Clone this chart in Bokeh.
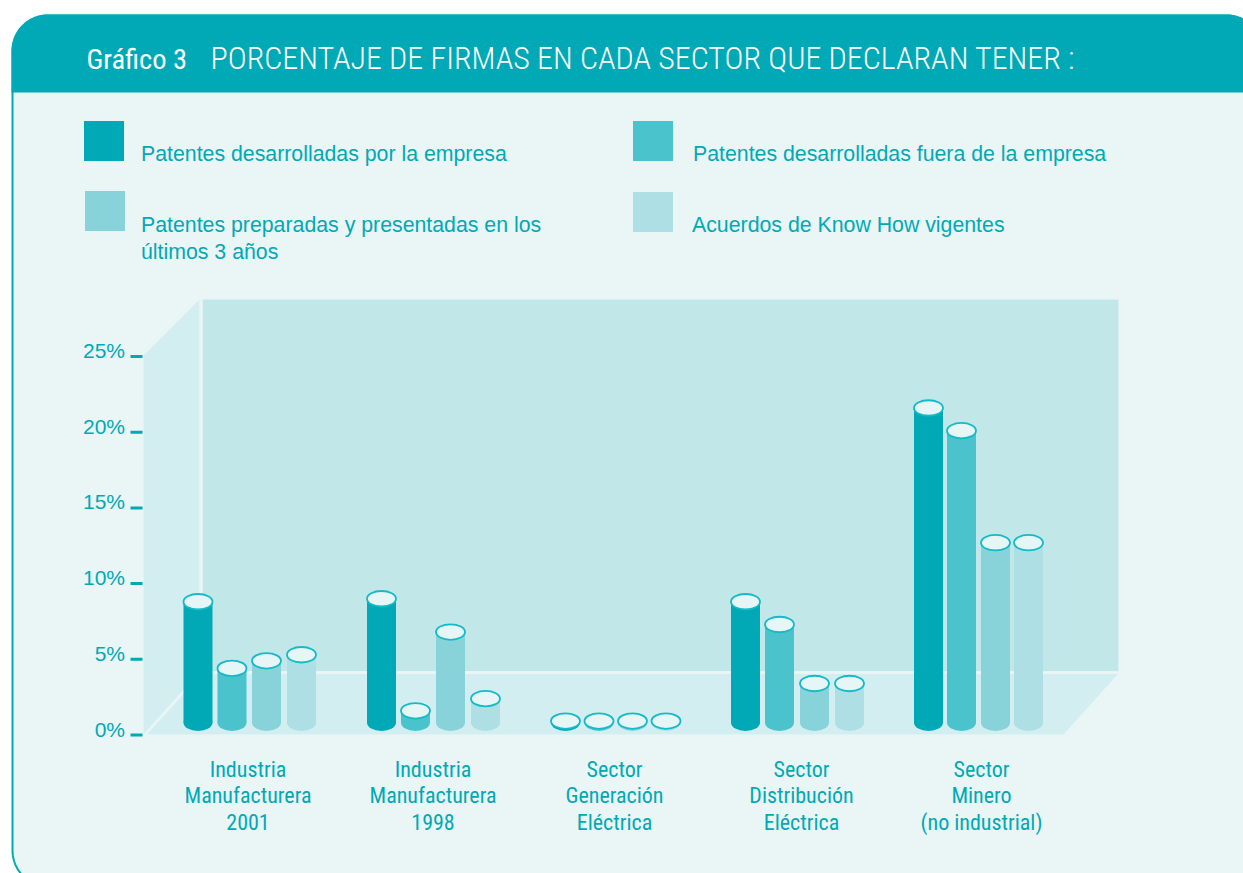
import numpy as np
from bokeh.plotting import figure
from bokeh.models import Range1d
from bokeh.core.properties import value
from bokeh.embed import file_html
from bokeh.resources import INLINE

# ---------- data ----------
categories = ["Industria\nManufacturera\n2001", "Industria\nManufacturera\n1998",
              "Sector\nGeneración\nEléctrica", "Sector\nDistribución\nEléctrica",
              "Sector\nMinero\n(no industrial)"]
series_names = ["Patentes desarrolladas por la empresa",
                "Patentes desarrolladas fuera de la empresa",
                "Patentes preparadas y presentadas en los\núltimos 3 años",
                "Acuerdos de Know How vigentes"]
own_dev = [8.8, 9.0, 0.92, 8.8, 21.6]
ext_dev = [4.4, 1.6, 0.92, 7.3, 20.1]
filed = [4.9, 6.8, 0.92, 3.4, 12.7]
know_how = [5.3, 2.4, 0.92, 3.4, 12.7]
tick_values = [0, 5, 10, 15, 20, 25]
tick_labels = ["0%", "5%", "10%", "15%", "20%", "25%"]
title_left = "Gráfico 3"
title_right = "PORCENTAJE DE FIRMAS EN CADA SECTOR QUE DECLARAN TENER :"
series = [own_dev, ext_dev, filed, know_how]

# ---------- layout (reference pixels) ----------
TEAL = "#00a9b5"
PANEL = "#eaf6f6"
WALL = "#c1e7e9"
SIDE = "#d3eef1"
colors = [TEAL, "#4bc3cd", "#88d3da", "#aedfe5"]
CAP = "#e6f5f6"
CAP_LINE = "#14bac8"
NARROW = value("Roboto Condensed")
SANS = value("Liberation Sans")
PX0, PCT = 734.5, 15.14


def Y(px):
    return (PX0 - np.asarray(px, dtype=float)) / PCT


bar_x = [[197.5, 231.5, 266, 301], [381, 415, 450, 485], [565, 598.5, 632, 665.5],
         [745, 779, 814, 849], [928, 961, 995, 1028]]
label_x = [247.5, 432.5, 614, 801, 981]
BAR_W = 29
base = float(Y(722))

p = figure(width=1243, height=873, output_backend="svg", toolbar_location=None,
           x_range=Range1d(0, 1243), y_range=Range1d(float(Y(873)), float(Y(0))),
           min_border=0, min_border_left=0, min_border_right=0, min_border_top=0,
           min_border_bottom=0, outline_line_color=None, background_fill_color="white",
           border_fill_color="white")
p.axis.visible = False
p.grid.visible = False


def rounded(x0, y0, x1, y1, r_tl, r_tr, r_br, r_bl):
    xs, ys = [], []
    for cx, cy, r, a0 in [(x0 + r_tl, y0 + r_tl, r_tl, 180), (x1 - r_tr, y0 + r_tr, r_tr, 270),
                          (x1 - r_br, y1 - r_br, r_br, 0), (x0 + r_bl, y1 - r_bl, r_bl, 90)]:
        a = np.radians(np.linspace(a0, a0 + 90, 24))
        xs += list(cx + r * np.cos(a))
        ys += list(cy + r * np.sin(a))
    return np.array(xs), np.array(ys)


# panel body and header
px, py = rounded(12, 15, 1262, 886, 36, 36, 36, 36)
p.patch(px, Y(py), fill_color=PANEL, line_color=TEAL, line_width=2)
hx, hy = rounded(11, 14, 1262, 92, 36, 36, 0, 0)
p.patch(hx, Y(hy), fill_color=TEAL, line_color=None)

# titles
p.text([86], Y([59]), text=[title_left], text_font=value("Roboto Condensed"), text_font_size="28.5px",
       text_color="white", text_baseline="middle")
p.text([210], Y([57.5]), text=[title_right], text_font=value("Roboto Condensed Light"),
       text_font_size="32px", text_color="white", text_baseline="middle")

# legend
for (x0, y0), c in zip([(83.5, 120.5), (632.5, 120.5), (84.5, 190.5), (632.5, 191.5)], colors):
    p.quad(left=[x0], right=[x0 + 40], top=Y([y0]), bottom=Y([y0 + 40]), fill_color=c, line_color=None)
for (tx, ty), s in zip([(140.5, 153), (692.5, 153), (140.5, 238), (691.5, 224)], series_names):
    p.text([tx], Y([ty]), text=[s], text_font=SANS, text_font_size="21.3px", text_color=TEAL,
           text_baseline="middle", text_line_height=1.115)

# 3D box
p.quad(left=[202], right=[1118], top=Y([299]), bottom=Y([671]), fill_color=WALL, line_color=None)
p.patch([143, 199, 199, 143], Y([355, 299, 671, 734]), fill_color=SIDE, line_color=None)
p.patch([146, 202, 1118, 1063], Y([734, 673, 673, 734]), fill_color=SIDE, line_color=None)
p.line([200.5, 200.5], Y([299, 672]), line_color=PANEL, line_width=3)
p.line([200, 1118], Y([672, 672]), line_color=PANEL, line_width=2.5)
p.line([145, 200], Y([734, 672]), line_color=PANEL, line_width=1.5)

# y ticks
for v, lab in zip(tick_values, tick_labels):
    p.line([130, 142], [v, v], line_color=TEAL, line_width=3)
    p.text([124.5], [v + 6 / PCT], text=[lab], text_font=SANS, text_font_size="21px",
           text_color=TEAL, text_align="right", text_baseline="middle")

# bars
for k in range(4):
    xs = [row[k] for row in bar_x]
    vals = series[k]
    p.ellipse(xs, [base] * 5, width=BAR_W, height=17, width_units="screen", height_units="screen",
              fill_color=colors[k], line_color=None)
    p.vbar(x=xs, width=BAR_W, bottom=base, top=vals, fill_color=colors[k], line_color=None)
    p.ellipse(xs, vals, width=BAR_W, height=15.5, width_units="screen", height_units="screen",
              fill_color=CAP, line_color=CAP_LINE, line_width=1.8)

# category labels
p.text(label_x, Y([795] * 5), text=categories, text_font=NARROW, text_font_size="22px",
       text_color=TEAL, text_align="center", text_baseline="middle", text_line_height=1.06)

open("out.html", "w").write(file_html(p, INLINE))
